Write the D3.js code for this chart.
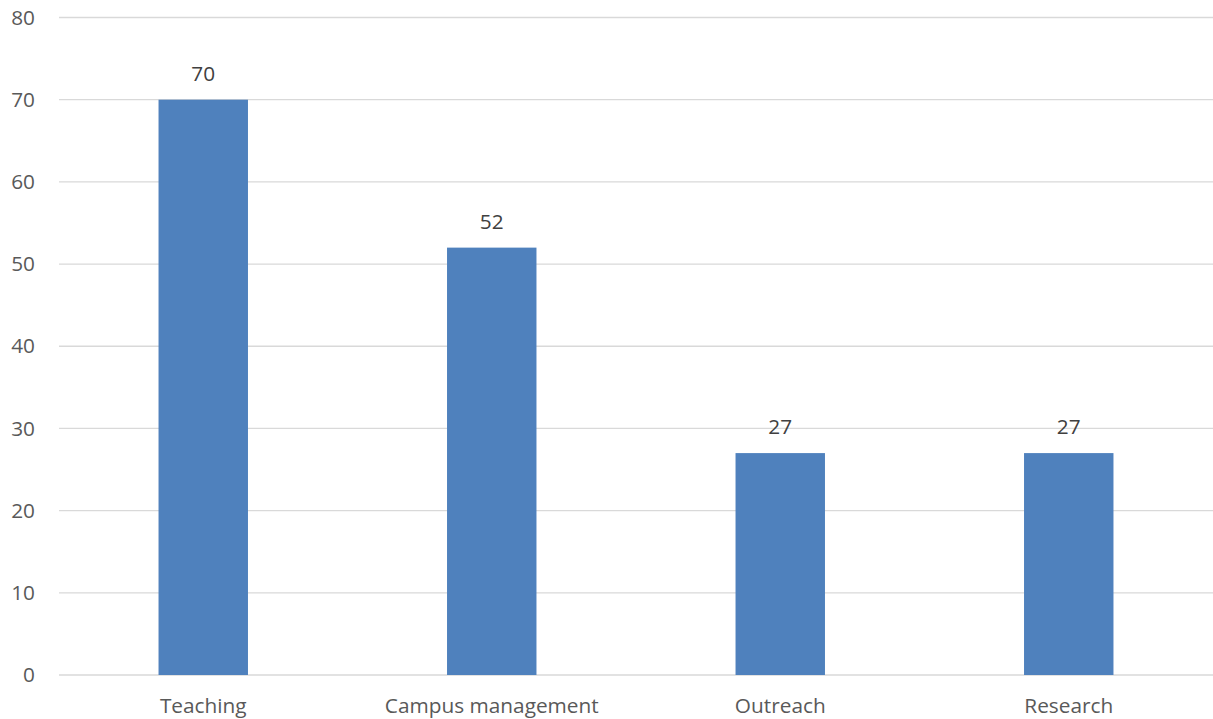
<!DOCTYPE html>
<html>
<head>
<meta charset="utf-8">
<script src="https://cdn.jsdelivr.net/npm/d3@7"></script>
<style>
  html, body { margin: 0; padding: 0; background: #fff; }
  svg { display: block; font-family: "Open Sans", "Liberation Sans", sans-serif; }
</style>
</head>
<body>
<svg id="chart" width="1213" height="719"></svg>
<script>
const categories = ["Teaching", "Campus management", "Outreach", "Research"];
const values = [70, 52, 27, 27];
const yTicks = [0, 10, 20, 30, 40, 50, 60, 70, 80];

(function () {
  const svg = d3.select("#chart");
  const plotLeft = 59, plotRight = 1213, plotTop = 17.5, plotBottom = 675;
  const fontSize = "20.8px";

  const x = d3.scaleBand().domain(categories).range([plotLeft, plotRight])
    .paddingInner(0.69).paddingOuter(0.345);
  const y = d3.scaleLinear().domain([0, 80]).range([plotBottom, plotTop]);

  // horizontal gridlines
  svg.append("g").selectAll("line").data(yTicks).join("line")
    .attr("x1", plotLeft).attr("x2", plotRight)
    .attr("y1", d => y(d)).attr("y2", d => y(d))
    .attr("stroke", "#d9d9d9").attr("stroke-width", 1.3);

  // y axis labels
  const yAxis = d3.axisLeft(y).tickValues(yTicks).tickSize(0).tickPadding(0);
  const gy = svg.append("g").attr("transform", "translate(35,0)").call(yAxis);
  gy.select(".domain").remove();
  gy.selectAll("text").attr("fill", "#595959").style("font-size", fontSize)
    .style("font-family", "\"Open Sans\", sans-serif");

  // bars
  svg.append("g").selectAll("rect").data(values).join("rect")
    .attr("x", (d, i) => x(categories[i]))
    .attr("width", x.bandwidth())
    .attr("y", d => y(d))
    .attr("height", d => y(0) - y(d))
    .attr("fill", "#4f81bd");

  // value labels
  svg.append("g").selectAll("text").data(values).join("text")
    .attr("x", (d, i) => x(categories[i]) + x.bandwidth() / 2)
    .attr("y", d => y(d) - 19)
    .attr("text-anchor", "middle")
    .attr("fill", "#404040")
    .style("font-size", fontSize)
    .text(d => d);

  // category labels
  const xAxis = d3.axisBottom(x).tickSize(0).tickPadding(0);
  const gx = svg.append("g").attr("transform", `translate(0,${plotBottom + 23})`).call(xAxis);
  gx.select(".domain").remove();
  gx.selectAll("text").attr("fill", "#595959").style("font-size", fontSize)
    .style("font-family", "\"Open Sans\", sans-serif");
})();
</script>
</body>
</html>
